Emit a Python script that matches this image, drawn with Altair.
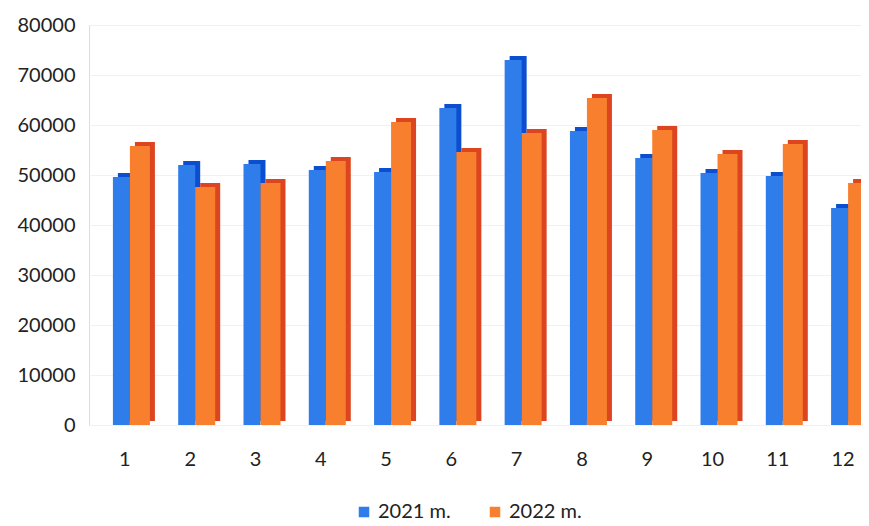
import altair as alt
import pandas as pd

months = [str(i) for i in range(1, 13)]
series_names = ["2021 m.", "2022 m."]
values_2021 = [49600, 52000, 52200, 51000, 50600, 63400, 73000, 58800, 53400, 50400, 49800, 43400]
values_2022 = [55800, 47600, 48400, 52800, 60600, 54600, 58400, 65400, 59000, 54200, 56200, 48400]
y_ticks = [0, 10000, 20000, 30000, 40000, 50000, 60000, 70000, 80000]

df21 = pd.DataFrame({"month": months, "year": series_names[0], "value": values_2021})
df22 = pd.DataFrame({"month": months, "year": series_names[1], "value": values_2022})

FONT = "Lato"
front_colors = ["#2f7deb", "#f77f2e"]
side_colors = ["#0b4fd0", "#dc451f"]

x_enc = alt.X("month:N", sort=months,
              scale=alt.Scale(range=[0, 790], paddingInner=0, paddingOuter=0.05),
              axis=alt.Axis(title=None, labelAngle=0, domain=False, ticks=False, grid=False,
                            labelFontSize=20, labelFont=FONT, labelColor="#222222",
                            labelPadding=24))
y_enc = alt.Y("value:Q", scale=alt.Scale(domain=[0, 80000]),
              axis=alt.Axis(title=None, values=y_ticks, format="d", domain=False, ticks=False,
                            labelFontSize=20, labelFont=FONT, labelColor="#222222",
                            labelPadding=14, gridColor="#f1f1f1", gridWidth=1))

color_enc = alt.Color("year:N", sort=series_names,
                      scale=alt.Scale(domain=series_names, range=front_colors),
                      legend=alt.Legend(title=None, orient="none", direction="horizontal",
                                        legendX=265, legendY=477,
                                        symbolType="square", symbolSize=110, symbolStrokeWidth=0,
                                        labelFontSize=20, labelFont=FONT, labelColor="#222222",
                                        columnPadding=34))

back21 = alt.Chart(df21).mark_bar(width=17, xOffset=-3.5 + 5, yOffset=-4, color=side_colors[0]).encode(
    x=x_enc, y=y_enc)
back22 = alt.Chart(df22).mark_bar(width=20, xOffset=15 + 5, yOffset=-4, color=side_colors[1]).encode(
    x=x_enc, y=y_enc)
front21 = alt.Chart(df21).mark_bar(width=17, xOffset=-3.5).encode(x=x_enc, y=y_enc, color=color_enc)
front22 = alt.Chart(df22).mark_bar(width=20, xOffset=15).encode(x=x_enc, y=y_enc, color=color_enc)

chart = alt.layer(back21, back22, front21, front22).properties(
    width=772, height=400,
    autosize=alt.AutoSizeParams(type="none"),
    padding={"left": 81, "top": 17, "right": 0, "bottom": 100},
).configure_view(stroke=None, strokeWidth=0).configure_axis(
    domain=False, domainOpacity=0
).configure(background="white")

chart.save("out.html", embed_options={"renderer": "svg", "actions": False})
